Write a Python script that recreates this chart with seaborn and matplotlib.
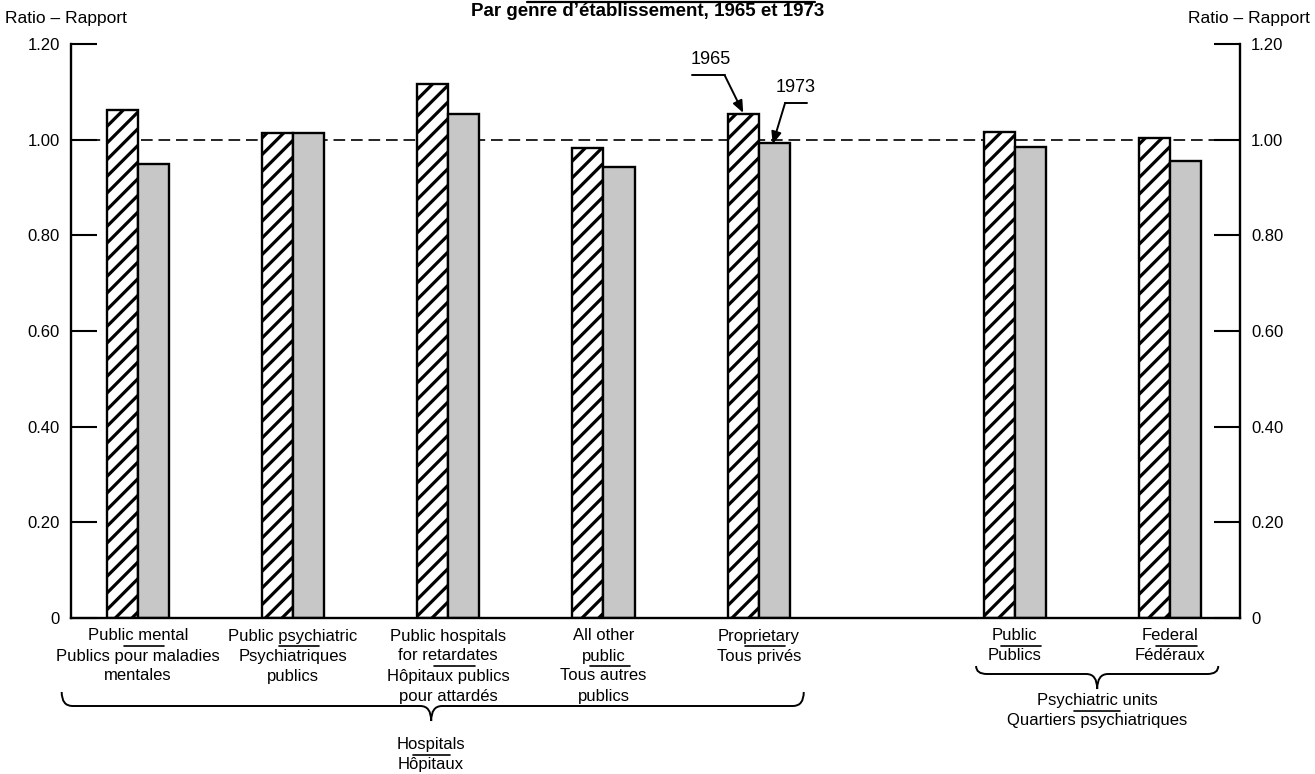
import matplotlib
matplotlib.use("Agg")
import matplotlib.pyplot as plt
import numpy as np
import pandas as pd
import seaborn as sns
from matplotlib.lines import Line2D
from matplotlib.patches import PathPatch
from matplotlib.path import Path

# --- data ---
positions = [0, 1, 2, 3, 4, 5.65, 6.65]  # gap before the psychiatric units
labels_en = ["Public mental", "Public psychiatric", "Public hospitals\nfor retardates",
             "All other\npublic", "Proprietary", "Public", "Federal"]
labels_fr = ["Publics pour maladies\nmentales", "Psychiatriques\npublics",
             "Hôpitaux publics\npour attardés", "Tous autres\npublics", "Tous privés",
             "Publics", "Fédéraux"]
ratio_1965 = [1.061, 1.014, 1.117, 0.983, 1.054, 1.017, 1.003]
ratio_1973 = [0.950, 1.014, 1.054, 0.942, 0.992, 0.985, 0.955]
years = ["1965", "1973"]
yticks = [0, 0.2, 0.4, 0.6, 0.8, 1.0, 1.2]
ytick_labels = ["0", "0.20", "0.40", "0.60", "0.80", "1.00", "1.20"]

df = pd.DataFrame({
    "pos": positions * 2,
    "ratio": ratio_1965 + ratio_1973,
    "year": [years[0]] * len(positions) + [years[1]] * len(positions),
})

sns.set_theme(style="white")
plt.rcParams["font.family"] = ["Liberation Sans", "DejaVu Sans"]
plt.rcParams["text.color"] = "black"
plt.rcParams["hatch.linewidth"] = 2.3
plt.rcParams["hatch.color"] = "black"

W, H = 1315, 774
fig = plt.figure(figsize=(W / 100, H / 100), dpi=100)
ax = fig.add_axes([71 / W, 1 - 618 / H, (1240 - 71) / W, (618 - 44) / H])

sns.barplot(data=df, x="pos", y="ratio", hue="year", hue_order=years,
            native_scale=True, width=0.4, gap=0, palette=["white", "#c7c7c7"],
            edgecolor="black", linewidth=1.7, saturation=1, legend=False,
            ax=ax, zorder=2)
for bar in ax.containers[0]:
    bar.set_hatch("//")

ax.axhline(1.0, color="black", lw=1.2, ls=(0, (7, 3.5)), zorder=1)

ax.set_xlim(-0.43, 7.10)
ax.set_ylim(0, 1.2)
ax.set_xticks([])
ax.set_xlabel("")
ax.set_ylabel("")
ax.set_yticks(yticks)
ax.set_yticklabels(ytick_labels)
ax.tick_params(axis="y", direction="in", length=19, width=1.5, pad=8,
               left=True, right=True, labelleft=True, labelright=True,
               labelsize=12, colors="black")
for side in ["left", "right", "bottom"]:
    ax.spines[side].set_visible(True)
    ax.spines[side].set_linewidth(1.7)
    ax.spines[side].set_color("black")
ax.spines["top"].set_visible(False)

# --- year call-outs on the proprietary pair ---
ax.text(3.69, 1.167, "1965", ha="center", va="center", fontsize=13)
ax.plot([3.57, 3.78], [1.135, 1.135], color="black", lw=1.4, clip_on=False)
ax.annotate("", xy=(3.90, 1.056), xytext=(3.78, 1.135),
            arrowprops=dict(arrowstyle="-|>,head_length=0.6,head_width=0.25",
                            color="black", lw=1.4, shrinkA=0, shrinkB=0))
ax.text(4.24, 1.110, "1973", ha="center", va="center", fontsize=13)
ax.plot([4.17, 4.31], [1.077, 1.077], color="black", lw=1.4, clip_on=False)
ax.annotate("", xy=(4.09, 0.991), xytext=(4.17, 1.077),
            arrowprops=dict(arrowstyle="-|>,head_length=0.6,head_width=0.25",
                            color="black", lw=1.4, shrinkA=0, shrinkB=0))

# --- category labels below the axis ---
xt = ax.get_xaxis_transform()
ax_h = 618 - 44  # axes height in px


def frac(py):
    # pixel row below the axis -> axes fraction
    return -(py - 618) / ax_h


def two_part_label(x, en, fr, y0, pitch=20, sep_w=0.13, sep_dx=0.04, fs=12):
    y = y0
    for line in en.split("\n"):
        ax.text(x, frac(y), line, transform=xt, ha="center", va="center",
                fontsize=fs)
        y += pitch
    sep = y - pitch / 2
    ax.add_line(Line2D([x + sep_dx - sep_w, x + sep_dx + sep_w], [frac(sep)] * 2,
                       transform=xt, color="black", lw=1.2, clip_on=False))
    for line in fr.split("\n"):
        ax.text(x, frac(y), line, transform=xt, ha="center", va="center",
                fontsize=fs)
        y += pitch


for p, en, fr in zip(positions, labels_en, labels_fr):
    two_part_label(p, en, fr, 636)


def brace(x0, x1, xc, y_end, y_line, y_tip, r=0.07):
    verts = [
        (x0, frac(y_end)), (x0, frac(y_line)), (x0 + r, frac(y_line)),
        (xc - r, frac(y_line)), (xc, frac(y_line)), (xc, frac(y_tip)),
        (xc, frac(y_line)), (xc + r, frac(y_line)),
        (x1 - r, frac(y_line)), (x1, frac(y_line)), (x1, frac(y_end)),
    ]
    codes = [Path.MOVETO, Path.CURVE3, Path.CURVE3, Path.LINETO,
             Path.CURVE3, Path.CURVE3, Path.CURVE3, Path.CURVE3,
             Path.LINETO, Path.CURVE3, Path.CURVE3]
    ax.add_patch(PathPatch(Path(verts, codes), transform=xt, fill=False,
                           edgecolor="black", lw=1.4, clip_on=False))


brace(-0.49, 4.29, 1.89, 692, 706, 721)
two_part_label(1.89, "Hospitals", "Hôpitaux", 745, sep_w=0.12, sep_dx=0)
brace(5.40, 6.96, 6.18, 666, 674, 689)
two_part_label(6.18, "Psychiatric units", "Quartiers psychiatriques", 701,
               pitch=19, sep_w=0.15, sep_dx=0)

# --- header texts ---
fig.text(648 / W, 1 - 11.5 / H, "Par genre d\u2019établissement, 1965 et 1973",
         ha="center", va="center", fontsize=13.5, fontweight="bold")
fig.add_artist(Line2D([527 / W, 815 / W], [1 - 1.5 / H] * 2,
                      transform=fig.transFigure, color="black", lw=1.6))
fig.text(5 / W, 1 - 18 / H, "Ratio \u2013 Rapport", ha="left", va="center",
         fontsize=12.5)
fig.text(1310 / W, 1 - 18 / H, "Ratio \u2013 Rapport", ha="right", va="center",
         fontsize=12.5)

fig.savefig("out.png", dpi=100)
